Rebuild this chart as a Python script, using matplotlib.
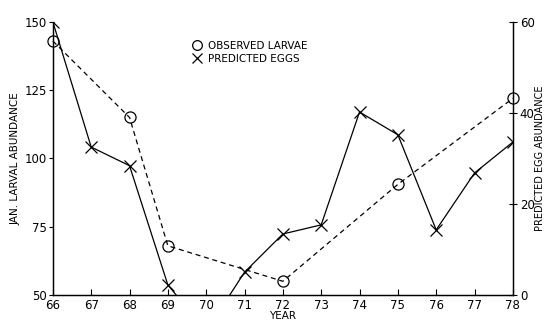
import matplotlib
matplotlib.use("Agg")
import matplotlib.pyplot as plt
from matplotlib.lines import Line2D

# Observed January larval abundance (left axis)
larvae_years = [66, 68, 69, 72, 75, 78]
larvae_values = [143, 115, 68, 55, 90.5, 122]

# Predicted egg abundance (right axis)
egg_years = [66, 67, 68, 69, 70, 71, 72, 73, 74, 75, 76, 77, 78]
egg_values = [60, 32.5, 28.4, 2.2, -8, 5.0, 13.4, 15.4, 40.2, 35.2, 14.3, 26.8, 33.6]

year_ticks = list(range(66, 79))
left_ticks = [50, 75, 100, 125, 150]
right_ticks = [0, 20, 40, 60]

plt.rcParams["font.family"] = ["DejaVu Sans"]
fig = plt.figure(figsize=(5.45, 3.27), dpi=100)
ax = fig.add_axes([0.097, 0.098, 0.844, 0.835])
ax2 = ax.twinx()

ax.plot(larvae_years, larvae_values, color="black", lw=0.9, ls=(0, (4, 3)),
        marker="o", mfc="none", mec="black", ms=8, mew=0.9, zorder=3, clip_on=False)
ax2.plot(egg_years, egg_values, color="black", lw=0.9,
         marker="x", ms=8, mew=0.9, zorder=3)

ax.set_xlim(66, 78)
ax.set_ylim(50, 150)
ax2.set_ylim(0, 60)

ax.set_xticks(year_ticks)
ax.set_xticklabels([str(y) for y in year_ticks])
ax.set_yticks(left_ticks)
ax2.set_yticks(right_ticks)

for a in (ax, ax2):
    a.spines["top"].set_visible(False)
    for s in a.spines.values():
        s.set_linewidth(0.9)

ax.tick_params(axis="x", direction="in", length=4, width=0.8, labelsize=8.5, pad=3)
ax.tick_params(axis="y", direction="out", length=3, width=0.8, labelsize=8.5, pad=1)
ax2.tick_params(axis="y", direction="inout", length=6, width=0.8, labelsize=8.5, pad=2)

ax.set_xlabel("YEAR", fontsize=7.5, labelpad=-1)
ax.set_ylabel("JAN. LARVAL ABUNDANCE", fontsize=7.5, labelpad=3)
ax2.set_ylabel("PREDICTED EGG ABUNDANCE", fontsize=7, labelpad=0)

handles = [
    Line2D([], [], ls="none", marker="o", mfc="none", mec="black", ms=7, mew=0.9),
    Line2D([], [], ls="none", marker="x", color="black", ms=7, mew=0.9),
]
ax.legend(handles, ["OBSERVED LARVAE", "PREDICTED EGGS"], loc="upper left",
          bbox_to_anchor=(0.29, 0.95), frameon=False, fontsize=7.5,
          handlelength=1.0, handletextpad=0.6, labelspacing=0.3, borderpad=0)

fig.savefig("out.png", dpi=100)
